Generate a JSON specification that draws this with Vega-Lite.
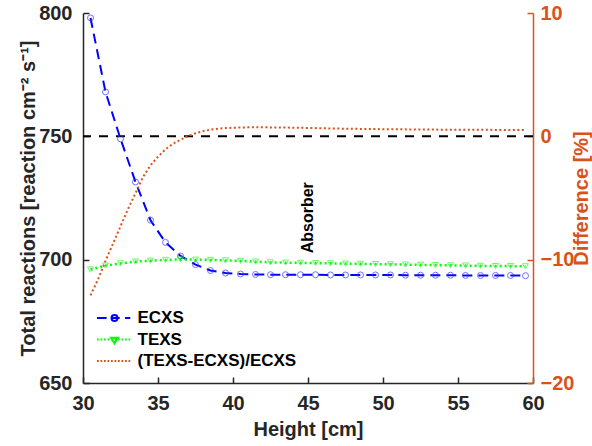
{
  "$schema": "https://vega.github.io/schema/vega-lite/v6.json",
  "width": 450,
  "height": 370,
  "autosize": {"type": "none"},
  "padding": {"left": 83, "top": 13, "right": 59, "bottom": 63},
  "config": {
    "font": "Liberation Sans",
    "view": {"stroke": null},
    "axis": {"grid": false, "labelFlush": false, "labelFontWeight": "bold", "titleFontWeight": "bold", "labelFontSize": 20, "titleFontSize": 20}
  },
  "datasets": {
    "main": [
      {"x": 30.5, "series": "ECXS", "value": 798}, {"x": 31.5, "series": "ECXS", "value": 768}, {"x": 32.5, "series": "ECXS", "value": 749},
      {"x": 33.5, "series": "ECXS", "value": 731.5}, {"x": 34.5, "series": "ECXS", "value": 716}, {"x": 35.5, "series": "ECXS", "value": 707},
      {"x": 36.5, "series": "ECXS", "value": 701.5}, {"x": 37.5, "series": "ECXS", "value": 698}, {"x": 38.5, "series": "ECXS", "value": 695.6},
      {"x": 39.5, "series": "ECXS", "value": 694.6}, {"x": 40.5, "series": "ECXS", "value": 694.2}, {"x": 41.5, "series": "ECXS", "value": 694.0},
      {"x": 42.5, "series": "ECXS", "value": 693.9}, {"x": 43.5, "series": "ECXS", "value": 693.9}, {"x": 44.5, "series": "ECXS", "value": 693.9},
      {"x": 45.5, "series": "ECXS", "value": 693.9}, {"x": 46.5, "series": "ECXS", "value": 693.8}, {"x": 47.5, "series": "ECXS", "value": 693.8},
      {"x": 48.5, "series": "ECXS", "value": 693.8}, {"x": 49.5, "series": "ECXS", "value": 693.8}, {"x": 50.5, "series": "ECXS", "value": 693.8},
      {"x": 51.5, "series": "ECXS", "value": 693.7}, {"x": 52.5, "series": "ECXS", "value": 693.7}, {"x": 53.5, "series": "ECXS", "value": 693.7},
      {"x": 54.5, "series": "ECXS", "value": 693.7}, {"x": 55.5, "series": "ECXS", "value": 693.6}, {"x": 56.5, "series": "ECXS", "value": 693.6},
      {"x": 57.5, "series": "ECXS", "value": 693.6}, {"x": 58.5, "series": "ECXS", "value": 693.6}, {"x": 59.5, "series": "ECXS", "value": 693.5},
      {"x": 30.5, "series": "TEXS", "value": 696.0}, {"x": 31.5, "series": "TEXS", "value": 697.6}, {"x": 32.5, "series": "TEXS", "value": 698.5},
      {"x": 33.5, "series": "TEXS", "value": 699.2}, {"x": 34.5, "series": "TEXS", "value": 699.6}, {"x": 35.5, "series": "TEXS", "value": 699.9},
      {"x": 36.5, "series": "TEXS", "value": 700.1}, {"x": 37.5, "series": "TEXS", "value": 700.0}, {"x": 38.5, "series": "TEXS", "value": 699.9},
      {"x": 39.5, "series": "TEXS", "value": 699.7}, {"x": 40.5, "series": "TEXS", "value": 699.5}, {"x": 41.5, "series": "TEXS", "value": 699.2},
      {"x": 42.5, "series": "TEXS", "value": 698.9}, {"x": 43.5, "series": "TEXS", "value": 698.8}, {"x": 44.5, "series": "TEXS", "value": 698.7},
      {"x": 45.5, "series": "TEXS", "value": 698.6}, {"x": 46.5, "series": "TEXS", "value": 698.5}, {"x": 47.5, "series": "TEXS", "value": 698.4},
      {"x": 48.5, "series": "TEXS", "value": 698.3}, {"x": 49.5, "series": "TEXS", "value": 698.2}, {"x": 50.5, "series": "TEXS", "value": 698.1},
      {"x": 51.5, "series": "TEXS", "value": 698.0}, {"x": 52.5, "series": "TEXS", "value": 697.9}, {"x": 53.5, "series": "TEXS", "value": 697.8},
      {"x": 54.5, "series": "TEXS", "value": 697.7}, {"x": 55.5, "series": "TEXS", "value": 697.6}, {"x": 56.5, "series": "TEXS", "value": 697.5},
      {"x": 57.5, "series": "TEXS", "value": 697.4}, {"x": 58.5, "series": "TEXS", "value": 697.4}, {"x": 59.5, "series": "TEXS", "value": 697.3}
    ],
    "diff": [
      {"x": 30.5, "series": "(TEXS-ECXS)/ECXS", "value": -12.9}, {"x": 31.0, "series": "(TEXS-ECXS)/ECXS", "value": -11.6},
      {"x": 31.5, "series": "(TEXS-ECXS)/ECXS", "value": -10.1}, {"x": 32.0, "series": "(TEXS-ECXS)/ECXS", "value": -8.7},
      {"x": 32.5, "series": "(TEXS-ECXS)/ECXS", "value": -7.3}, {"x": 33.0, "series": "(TEXS-ECXS)/ECXS", "value": -5.9},
      {"x": 33.5, "series": "(TEXS-ECXS)/ECXS", "value": -4.6}, {"x": 34.0, "series": "(TEXS-ECXS)/ECXS", "value": -3.3},
      {"x": 34.5, "series": "(TEXS-ECXS)/ECXS", "value": -2.35}, {"x": 35.0, "series": "(TEXS-ECXS)/ECXS", "value": -1.65},
      {"x": 35.5, "series": "(TEXS-ECXS)/ECXS", "value": -1.05}, {"x": 36.0, "series": "(TEXS-ECXS)/ECXS", "value": -0.6},
      {"x": 36.5, "series": "(TEXS-ECXS)/ECXS", "value": -0.28}, {"x": 37.0, "series": "(TEXS-ECXS)/ECXS", "value": 0.02},
      {"x": 37.5, "series": "(TEXS-ECXS)/ECXS", "value": 0.25}, {"x": 38.0, "series": "(TEXS-ECXS)/ECXS", "value": 0.42},
      {"x": 38.5, "series": "(TEXS-ECXS)/ECXS", "value": 0.54}, {"x": 39.0, "series": "(TEXS-ECXS)/ECXS", "value": 0.62},
      {"x": 39.5, "series": "(TEXS-ECXS)/ECXS", "value": 0.67}, {"x": 40.0, "series": "(TEXS-ECXS)/ECXS", "value": 0.7},
      {"x": 41.0, "series": "(TEXS-ECXS)/ECXS", "value": 0.73}, {"x": 42.0, "series": "(TEXS-ECXS)/ECXS", "value": 0.73},
      {"x": 43.0, "series": "(TEXS-ECXS)/ECXS", "value": 0.72}, {"x": 44.0, "series": "(TEXS-ECXS)/ECXS", "value": 0.7},
      {"x": 45.0, "series": "(TEXS-ECXS)/ECXS", "value": 0.68}, {"x": 46.0, "series": "(TEXS-ECXS)/ECXS", "value": 0.65},
      {"x": 47.0, "series": "(TEXS-ECXS)/ECXS", "value": 0.63}, {"x": 48.0, "series": "(TEXS-ECXS)/ECXS", "value": 0.61},
      {"x": 50.0, "series": "(TEXS-ECXS)/ECXS", "value": 0.58}, {"x": 52.0, "series": "(TEXS-ECXS)/ECXS", "value": 0.56},
      {"x": 54.0, "series": "(TEXS-ECXS)/ECXS", "value": 0.54}, {"x": 56.0, "series": "(TEXS-ECXS)/ECXS", "value": 0.53},
      {"x": 58.0, "series": "(TEXS-ECXS)/ECXS", "value": 0.52}, {"x": 59.5, "series": "(TEXS-ECXS)/ECXS", "value": 0.51}
    ],
    "note": [{"x": 45, "value": 717, "label": "Absorber"}],
    "ref": [{"value": 750}]
  },
  "layer": [
    {
      "layer": [
        {
          "data": {"name": "ref"},
          "mark": {"type": "rule", "color": "#000000", "strokeWidth": 2, "strokeDash": [9, 8]},
          "encoding": {
            "y": {"field": "value", "type": "quantitative", "scale": {"domain": [650, 800], "nice": false, "zero": false},
              "axis": {"orient": "left", "values": [650, 700, 750, 800], "title": "Total reactions [reaction cm⁻² s⁻¹]", "tickSize": -6, "labelPadding": 17, "titlePadding": 0, "domainColor": "#262626", "tickColor": "#262626", "labelColor": "#262626", "titleColor": "#262626", "domainWidth": 1.5, "tickWidth": 1.5}}
          }
        },
        {
          "data": {"name": "main"},
          "transform": [{"filter": "datum.series === 'ECXS'"}],
          "mark": {"type": "line", "strokeWidth": 2, "strokeDash": [10, 6]},
          "encoding": {
            "x": {"field": "x", "type": "quantitative", "scale": {"domain": [30, 60], "nice": false, "zero": false},
              "axis": {"values": [30, 35, 40, 45, 50, 55, 60], "title": "Height [cm]", "tickSize": -6, "labelPadding": 16, "titlePadding": 6, "domainColor": "#262626", "tickColor": "#262626", "labelColor": "#262626", "titleColor": "#262626", "domainWidth": 1.5, "tickWidth": 1.5}},
            "y": {"field": "value", "type": "quantitative", "title": "Total reactions [reaction cm⁻² s⁻¹]"},
            "color": {"field": "series", "type": "nominal",
              "scale": {"domain": ["ECXS", "TEXS", "(TEXS-ECXS)/ECXS"], "range": ["#0000ff", "#00ff00", "#d95319"]},
              "legend": {"title": null, "orient": "none", "legendX": 20.5, "legendY": 294, "labelFontSize": 17, "labelFontWeight": "bold", "labelColor": "#000000", "symbolSize": 400, "symbolStrokeWidth": 2, "symbolFillColor": "transparent", "labelOffset": 12, "rowPadding": 2.5, "gridAlign": "all",
                "encode": {"symbols": {"update": {
                  "fill": {"value": "transparent"},
                  "shape": {"signal": "datum.value === 'ECXS' ? 'M-1.75,0H-0.79M-0.35,0H0.52M1.05,0H1.58M0.3,0A0.3,0.3 0 1 1 -0.3,0A0.3,0.3 0 1 1 0.3,0' : datum.value === 'TEXS' ? 'M-1.75,0h0.175M-1.4,0h0.175M-1.05,0h0.175M-0.7,0h0.175M-0.35,0h0.175M0,0h0.175M0.35,0h0.175M0.7,0h0.175M1.05,0h0.175M1.4,0h0.175M-0.35,-0.175L0.35,-0.175L0,0.385Z' : 'M-1.75,0h0.175M-1.4,0h0.175M-1.05,0h0.175M-0.7,0h0.175M-0.35,0h0.175M0,0h0.175M0.35,0h0.175M0.7,0h0.175M1.05,0h0.175M1.4,0h0.175'"}
                }}}}
            }
          }
        },
        {
          "data": {"name": "main"},
          "transform": [{"filter": "datum.series === 'TEXS'"}],
          "mark": {"type": "line", "strokeWidth": 2.5, "strokeDash": [2, 3]},
          "encoding": {
            "x": {"field": "x", "type": "quantitative"},
            "y": {"field": "value", "type": "quantitative", "title": "Total reactions [reaction cm⁻² s⁻¹]"},
            "color": {"field": "series", "type": "nominal"}
          }
        },
        {
          "data": {"name": "main"},
          "transform": [{"filter": "datum.series === 'ECXS'"}],
          "mark": {"type": "point", "shape": "circle", "filled": false, "size": 36, "stroke": "#3333ff", "strokeWidth": 1},
          "encoding": {
            "x": {"field": "x", "type": "quantitative"},
            "y": {"field": "value", "type": "quantitative", "title": "Total reactions [reaction cm⁻² s⁻¹]"}
          }
        },
        {
          "data": {"name": "main"},
          "transform": [{"filter": "datum.series === 'TEXS'"}],
          "mark": {"type": "point", "shape": "triangle-down", "filled": false, "size": 36, "stroke": "#33ee33", "strokeWidth": 1},
          "encoding": {
            "x": {"field": "x", "type": "quantitative"},
            "y": {"field": "value", "type": "quantitative", "title": "Total reactions [reaction cm⁻² s⁻¹]"}
          }
        },
        {
          "data": {"name": "note"},
          "mark": {"type": "text", "angle": 270, "fontSize": 16, "fontWeight": "bold", "color": "#000000", "align": "center", "baseline": "middle"},
          "encoding": {
            "x": {"field": "x", "type": "quantitative"},
            "y": {"field": "value", "type": "quantitative", "title": "Total reactions [reaction cm⁻² s⁻¹]"},
            "text": {"field": "label"}
          }
        }
      ]
    },
    {
      "data": {"name": "diff"},
      "mark": {"type": "line", "strokeWidth": 2, "strokeDash": [2, 2.5]},
      "encoding": {
        "x": {"field": "x", "type": "quantitative"},
        "y": {"field": "value", "type": "quantitative", "scale": {"domain": [-20, 10], "nice": false, "zero": false},
          "axis": {"orient": "right", "values": [-20, -10, 0, 10], "title": "Difference [%]", "titleAngle": 270, "tickSize": -6, "labelPadding": 13, "titlePadding": 18, "domainColor": "#d95319", "tickColor": "#d95319", "labelColor": "#d95319", "titleColor": "#d95319", "domainWidth": 1.5, "tickWidth": 1.5}},
        "color": {"field": "series", "type": "nominal"}
      }
    }
  ],
  "resolve": {"scale": {"y": "independent"}}
}
